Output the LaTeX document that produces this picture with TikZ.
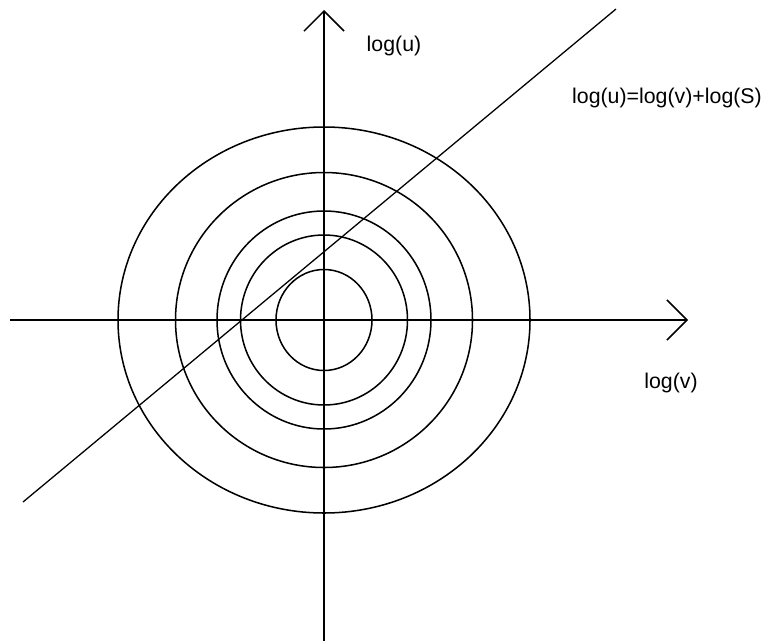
\documentclass[tikz,border=0pt]{standalone}
\usepackage{fontspec}
\setmainfont{Liberation Sans}
\usetikzlibrary{arrows.meta}
\tikzset{
  axis/.style={-{Straight Barb[length=0.6cm,width=1.2cm,line width=1.3pt]},line width=1.5pt},
  level/.style={line width=1.3pt},
  trend/.style={line width=1.1pt},
  lbl/.style={font=\fontsize{18.2}{22}\selectfont,inner sep=0pt}
}
\begin{document}
\begin{tikzpicture}[x=0.03cm,y=-0.03cm]
  \useasboundingbox (0,0) rectangle (769,643);
  % origin and axis ends
  \coordinate (o) at (324,320);
  \coordinate (vL) at (10,320);
  \coordinate (vR) at (688,320);
  \coordinate (uB) at (324,641);
  \coordinate (uT) at (324,10);
  % axes
  \draw[axis] (vL) -- (vR);
  \draw[axis] (uB) -- (uT);
  % level curves around the origin
  \foreach \rx/\ry in {206/193,148.5/147.5,107/109,83.5/85,48/50.5}
    \draw[level] (o) ellipse [x radius=\rx,y radius=\ry];
  % line log(u)=log(v)+log(S)
  \coordinate (sw) at (23,502);
  \coordinate (ne) at (616,9);
  \draw[trend] (sw) -- (ne);
  % labels
  \node[lbl] (ulbl) at (394,46) {log(u)};
  \node[lbl] (vlbl) at (671,383) {log(v)};
  \node[lbl] (eqlbl) at (667,98) {log(u)=log(v)+log(S)};
\end{tikzpicture}
\end{document}
